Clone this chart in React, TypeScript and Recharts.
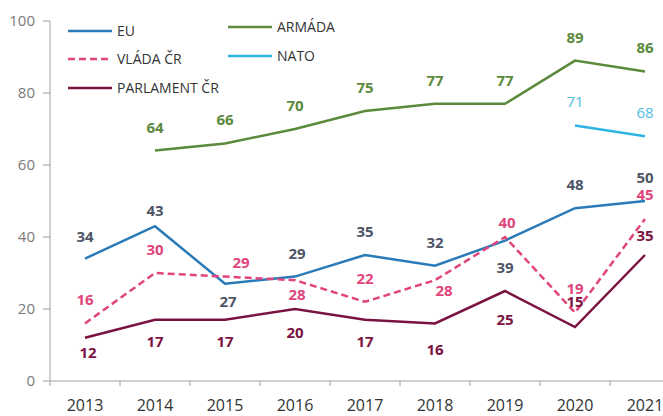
import { LineChart, Line, XAxis, YAxis, LabelList } from 'recharts';

const years = ['2013', '2014', '2015', '2016', '2017', '2018', '2019', '2020', '2021'];
const eu = [34, 43, 27, 29, 35, 32, 39, 48, 50];
const armada = [null, 64, 66, 70, 75, 77, 77, 89, 86];
const vlada = [16, 30, 29, 28, 22, 28, 40, 19, 45];
const nato = [null, null, null, null, null, null, null, 71, 68];
const parlament = [12, 17, 17, 20, 17, 16, 25, 15, 35];
const yTicks = [0, 20, 40, 60, 80, 100];

// label placement relative to each point [dx, dy]
const euLabelPos = [[0, -22], [0, -15], [3, 18], [2, -23], [0, -23], [0, -23], [0, 27], [0, -23], [0, -23]];
const vladaLabelPos = [[0, -23], [0, -23], [16, -14], [2, 15], [0, -23], [9, 11], [2, -14], [0, -24], [0, -24]];
const parlamentLabelPos = [[3, 15], [0, 22], [0, 22], [0, 24], [0, 22], [0, 27], [0, 29], [0, -25], [0, -19]];
const abovePos = years.map(() => [0, -23]);

const FONT = '"Open Sans", "Noto Sans", sans-serif';

const COLORS = {
    eu: '#2a7ab8',
    euLabel: '#4e5566',
    armada: '#5b8a3c',
    vlada: '#e0457b',
    nato: '#2fb4e2',
    natoLabel: '#4fbde3',
    parlament: '#7a1342',
};

const data = years.map((year, i) => ({
    year,
    eu: eu[i],
    armada: armada[i],
    vlada: vlada[i],
    nato: nato[i],
    parlament: parlament[i],
}));

const legendItems = [
    { name: 'EU', color: COLORS.eu, dash: undefined, x: 68, y: 31 },
    { name: 'VLÁDA ČR', color: COLORS.vlada, dash: '7 4', x: 68, y: 59 },
    { name: 'PARLAMENT ČR', color: COLORS.parlament, dash: undefined, x: 68, y: 88 },
    { name: 'ARMÁDA', color: COLORS.armada, dash: undefined, x: 228, y: 27 },
    { name: 'NATO', color: COLORS.nato, dash: undefined, x: 228, y: 56 },
];

const makeLabel = (pos: number[][], color: string, weight = 700) => (props: any) => {
    const { x, y, value, index } = props;
    if (value == null || x == null || y == null) return null;
    const [dx, dy] = pos[index] || [0, -23];
    return (
        <text
            x={x + dx}
            y={y + dy}
            dy={5}
            textAnchor="middle"
            fill={color}
            fontSize={15}
            fontWeight={weight}
            fontFamily={FONT}
        >
            {value}
        </text>
    );
};

const HALF_BAND = 35;
const AXIS_Y = 381;

const YearTick = (props: any) => {
    const { x, payload, index } = props;
    return (
        <g>
            {index === 0 && (
                <line x1={x - HALF_BAND} x2={x - HALF_BAND} y1={AXIS_Y} y2={AXIS_Y + 5} stroke="#a0a0a0" />
            )}
            <line x1={x + HALF_BAND} x2={x + HALF_BAND} y1={AXIS_Y} y2={AXIS_Y + 5} stroke="#a0a0a0" />
            <text x={x} y={AXIS_Y + 30} textAnchor="middle" fill="#333" fontSize={16} fontFamily={FONT}>
                {payload.value}
            </text>
        </g>
    );
};

const ChartLegend = () => (
    <svg width={400} height={100} style={{ position: 'absolute', left: 0, top: 0 }}>
        {legendItems.map((item) => (
            <g key={item.name}>
                <line
                    x1={item.x}
                    x2={item.x + 44}
                    y1={item.y}
                    y2={item.y}
                    stroke={item.color}
                    strokeWidth={2.5}
                    strokeDasharray={item.dash}
                />
                <text x={item.x + 49} y={item.y + 5} fill="#333" fontSize={14} fontFamily={FONT}>
                    {item.name}
                </text>
            </g>
        ))}
    </svg>
);

export default function App() {
    return (
        <div style={{ position: 'absolute', left: 0, top: 0, width: 663, height: 416, background: '#fff', overflow: 'hidden' }}>
            <LineChart width={663} height={416} data={data} margin={{ top: 21, right: 0, bottom: 0, left: 0 }}>
                <XAxis
                    dataKey="year"
                    height={35}
                    padding={{ left: HALF_BAND, right: 18 }}
                    axisLine={{ stroke: '#a0a0a0' }}
                    tickLine={false}
                    tick={<YearTick />}
                    interval={0}
                />
                <YAxis
                    width={50}
                    domain={[0, 100]}
                    ticks={yTicks}
                    axisLine={{ stroke: '#a0a0a0' }}
                    tickLine={{ stroke: '#a0a0a0' }}
                    tickSize={7}
                    tickMargin={8}
                    tick={{ fill: '#7a7a7a', fontSize: 15, fontFamily: FONT }}
                />
                <Line dataKey="armada" stroke={COLORS.armada} strokeWidth={2.5} dot={false} isAnimationActive={false}>
                    <LabelList dataKey="armada" content={makeLabel(abovePos, COLORS.armada)} />
                </Line>
                <Line dataKey="nato" stroke={COLORS.nato} strokeWidth={2.5} dot={false} isAnimationActive={false}>
                    <LabelList dataKey="nato" content={makeLabel(abovePos, COLORS.natoLabel, 400)} />
                </Line>
                <Line dataKey="parlament" stroke={COLORS.parlament} strokeWidth={2.5} dot={false} isAnimationActive={false}>
                    <LabelList dataKey="parlament" content={makeLabel(parlamentLabelPos, COLORS.parlament)} />
                </Line>
                <Line dataKey="eu" stroke={COLORS.eu} strokeWidth={2.5} dot={false} isAnimationActive={false}>
                    <LabelList dataKey="eu" content={makeLabel(euLabelPos, COLORS.euLabel)} />
                </Line>
                <Line
                    dataKey="vlada"
                    stroke={COLORS.vlada}
                    strokeWidth={2.5}
                    strokeDasharray="7 4"
                    dot={false}
                    isAnimationActive={false}
                >
                    <LabelList dataKey="vlada" content={makeLabel(vladaLabelPos, COLORS.vlada)} />
                </Line>
            </LineChart>
            <ChartLegend />
        </div>
    );
}
